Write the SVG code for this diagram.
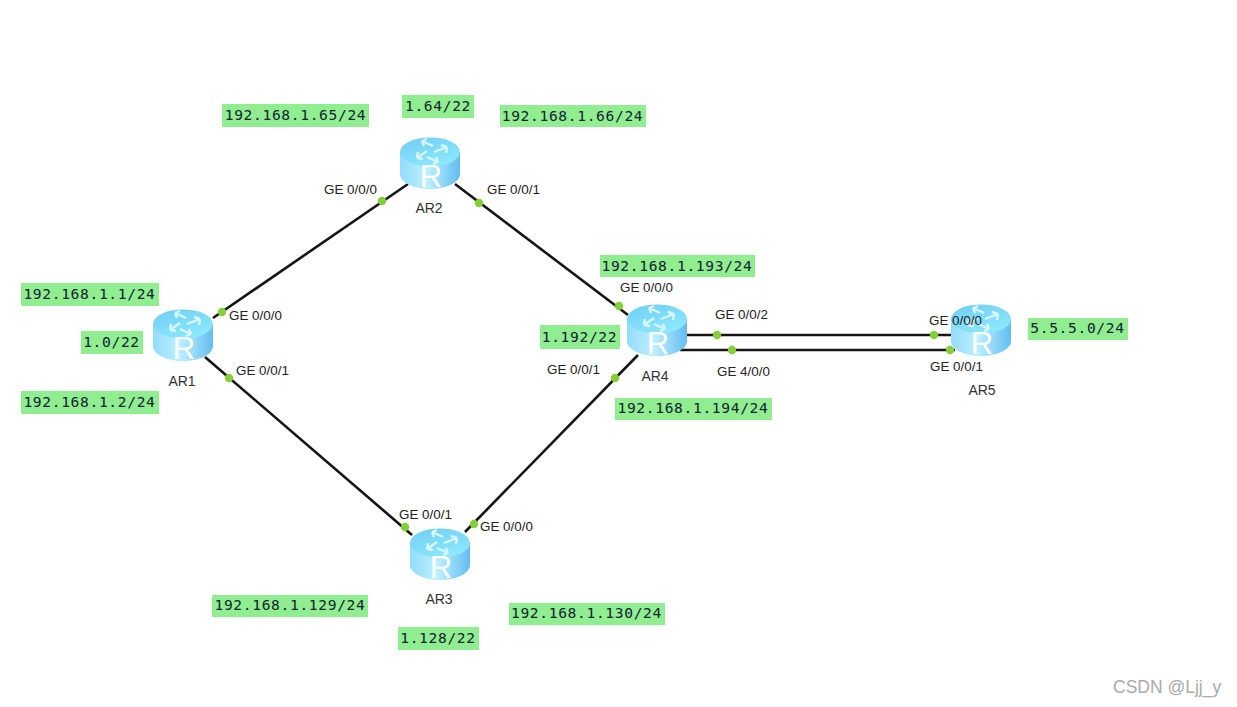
<svg xmlns="http://www.w3.org/2000/svg" width="1237" height="707" viewBox="0 0 1237 707">
<style>
.lnk{stroke:#151515;stroke-width:2.6;fill:none;stroke-linecap:butt}
.dot{fill:#84cf38}
.tag{fill:#90ee90}
.tagt{font-family:"DejaVu Sans Mono",monospace;font-size:14.6px;letter-spacing:0.65px;fill:#123;text-anchor:middle}
.ifl{font-family:"Liberation Sans",Arial,sans-serif;font-size:13.400px;fill:#222}
.nm{font-family:"Liberation Sans",Arial,sans-serif;font-size:14px;fill:#333;text-anchor:middle}
.wm{font-family:"Liberation Sans",Arial,sans-serif;font-size:17.500px;fill:#aaa}
.rl{font-family:"Liberation Sans",Arial,sans-serif;font-size:31px;fill:#fff;text-anchor:middle}
</style>
<defs>
<linearGradient id="body" x1="0" y1="0" x2="1" y2="0">
<stop offset="0" stop-color="#93dbfc"/><stop offset="0.45" stop-color="#bdf0ff"/><stop offset="1" stop-color="#62bdf1"/>
</linearGradient>
<linearGradient id="top" x1="0" y1="0" x2="0.6" y2="1">
<stop offset="0" stop-color="#6fcdf3"/><stop offset="1" stop-color="#8ce8fc"/>
</linearGradient>
<g id="router">
<path d="M0 15V37C0 45 13 52 30 52S60 45 60 37V15Z" fill="url(#body)"/>
<ellipse cx="30" cy="15" rx="30" ry="14.500" fill="url(#top)"/>
<g fill="none" stroke="#d8f6ff" stroke-width="2.4">
<path d="M22 4L33 9M22 4L27 2M22 4L24 9"/>
<path d="M38 25L27 20M38 25L33 27M38 25L36 20"/>
<path d="M17 21L27 14M17 21L18 15M17 21L23 22"/>
<path d="M47 10L34 15M47 10L46 16M47 10L41 8"/>
</g>
<text class="rl" x="31" y="50">R</text>
</g>
</defs>
<rect width="1237" height="707" fill="#fff"/>
<g id="connectors">
<path class="lnk" d="M213 318L408 184"/>
<path class="lnk" d="M455 184L628 315"/>
<path class="lnk" d="M205 357L412 535"/>
<path class="lnk" d="M465 532L638 355"/>
<path class="lnk" d="M687 335H951"/>
<path class="lnk" d="M680 350H955"/>
<circle class="dot" cx="222" cy="312" r="4.200"/><circle class="dot" cx="382" cy="201" r="4.200"/>
<circle class="dot" cx="479" cy="203" r="4.200"/><circle class="dot" cx="619" cy="306" r="4.200"/>
<circle class="dot" cx="229" cy="378" r="4.200"/><circle class="dot" cx="405" cy="527" r="4.200"/>
<circle class="dot" cx="474" cy="524" r="4.200"/><circle class="dot" cx="615" cy="378" r="4.200"/>
<circle class="dot" cx="717" cy="335" r="4.200"/><circle class="dot" cx="732" cy="350" r="4.200"/>
<circle class="dot" cx="934" cy="335" r="4.200"/><circle class="dot" cx="950" cy="350" r="4.200"/>
</g>
<g id="AR1"><use href="#router" x="153" y="309"/><text class="nm" x="182" y="386">AR1</text></g>
<g id="AR2"><use href="#router" x="400" y="137"/><text class="nm" x="429" y="213">AR2</text></g>
<g id="AR3"><use href="#router" x="410" y="528"/><text class="nm" x="439" y="604">AR3</text></g>
<g id="AR4"><use href="#router" x="627" y="304"/><text class="nm" x="655" y="381">AR4</text></g>
<g id="AR5"><use href="#router" x="951" y="304"/><text class="nm" x="982" y="395">AR5</text></g>
<g id="interface-labels">
<text class="ifl" x="229" y="320">GE 0/0/0</text>
<text class="ifl" x="236" y="375">GE 0/0/1</text>
<text class="ifl" x="324" y="194">GE 0/0/0</text>
<text class="ifl" x="487" y="194">GE 0/0/1</text>
<text class="ifl" x="620" y="292">GE 0/0/0</text>
<text class="ifl" x="547" y="374">GE 0/0/1</text>
<text class="ifl" x="715" y="319">GE 0/0/2</text>
<text class="ifl" x="717" y="376">GE 4/0/0</text>
<text class="ifl" x="929" y="325">GE 0/0/0</text>
<text class="ifl" x="930" y="371">GE 0/0/1</text>
<text class="ifl" x="399" y="519">GE 0/0/1</text>
<text class="ifl" x="480" y="531">GE 0/0/0</text>
</g>
<g id="address-labels">
<rect class="tag" x="222" y="104" width="147" height="23"/><text class="tagt" x="295.500" y="120">192.168.1.65/24</text>
<rect class="tag" x="402" y="95" width="72" height="23"/><text class="tagt" x="438" y="111">1.64/22</text>
<rect class="tag" x="500" y="105" width="146" height="22"/><text class="tagt" x="572.500" y="121">192.168.1.66/24</text>
<rect class="tag" x="600" y="255" width="155" height="22"/><text class="tagt" x="677" y="271">192.168.1.193/24</text>
<rect class="tag" x="21" y="283" width="138" height="23"/><text class="tagt" x="89.500" y="299">192.168.1.1/24</text>
<rect class="tag" x="81" y="331" width="62" height="23"/><text class="tagt" x="111.500" y="347">1.0/22</text>
<rect class="tag" x="21" y="391" width="138" height="23"/><text class="tagt" x="89.500" y="407">192.168.1.2/24</text>
<rect class="tag" x="615" y="398" width="157" height="22"/><text class="tagt" x="693" y="413">192.168.1.194/24</text>
<rect class="tag" x="540" y="325" width="80" height="24"/><text class="tagt" x="579.500" y="342">1.192/22</text>
<rect class="tag" x="1028" y="318" width="100" height="22"/><text class="tagt" x="1077.500" y="333">5.5.5.0/24</text>
<rect class="tag" x="212" y="595" width="156" height="22"/><text class="tagt" x="290" y="610">192.168.1.129/24</text>
<rect class="tag" x="509" y="603" width="156" height="22"/><text class="tagt" x="586.500" y="618">192.168.1.130/24</text>
<rect class="tag" x="398" y="627" width="81" height="23"/><text class="tagt" x="438" y="643">1.128/22</text>
</g>
<text class="wm" x="1113" y="693">CSDN @Ljj_y</text>
</svg>
